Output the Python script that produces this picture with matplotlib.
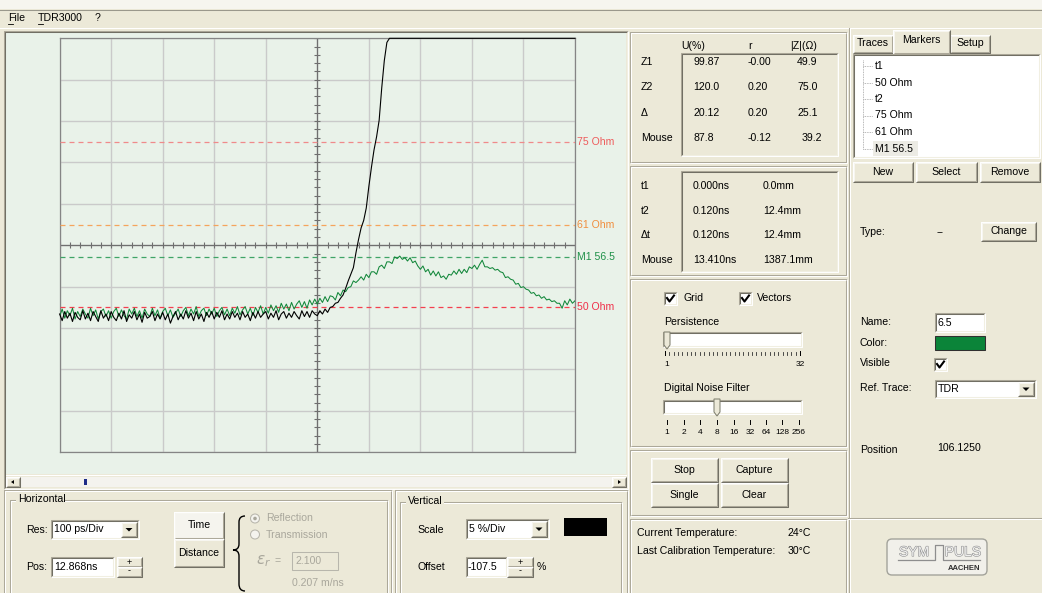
import numpy as np
import matplotlib.pyplot as plt
from matplotlib.patches import Rectangle, Circle, Polygon, FancyBboxPatch, PathPatch
from matplotlib.path import Path
from matplotlib.transforms import blended_transform_factory
import matplotlib.patheffects as pe

plt.rcParams['font.family'] = ['Liberation Sans', 'DejaVu Sans']

# scope settings
res_ps_per_div = 100
scale_pct_per_div = 5
offset_pct = -107.5
n_xdiv, n_ydiv = 10, 10

# sample clock of both traces
sample_start_ps = -500
sample_step_ps = 5

# TDR trace (black), % of step amplitude
tdr_pct = [
    99.2, 98.4, 99.5, 98.7, 99.3, 98.3, 99.4, 98.8, 98.5, 99.6,
    98.6, 99.3, 98.4, 99.5, 98.9, 98.3, 99.6, 98.7, 99.2, 98.4,
    99.5, 98.8, 98.4, 99.3, 98.6, 99.6, 98.3, 99.1, 98.7, 99.5,
    98.5, 99.2, 98.2, 99.4, 98.7, 98.9, 99.5, 98.4, 99.2, 98.6,
    99.4, 98.5, 99.2, 98.1, 98.9, 99.5, 98.5, 99.2, 98.6, 99.6,
    98.7, 99.3, 98.4, 99.5, 98.6, 99.2, 98.3, 99.4, 98.8, 99.5,
    98.6, 99.4, 98.8, 99.6, 98.5, 99.2, 98.6, 99.5, 98.8, 99.3,
    98.5, 99.5, 98.8, 99.2, 98.4, 99.4, 98.7, 99.5, 98.8, 99.2,
    99.5, 98.6, 99.3, 98.8, 99.6, 98.5, 99.2, 99.5, 98.7, 99.3,
    98.8, 99.5, 99.0, 98.6, 99.6, 98.9, 99.5, 98.8, 99.6, 99.2,
    99.0, 99.6, 99.2, 99.8, 99.4, 100.0, 100.1, 100.5, 100.6, 101.1,
    101.5, 102.3, 103.2, 104.0, 104.8, 106.6, 108.2, 109.6, 110.5, 112.0,
    114.6, 116.9, 119.0, 120.6, 122.6, 126.5, 129.8, 132.0, 134.5, 137.0,
    139.2, 141.0, 142.6, 143.8, 144.7, 145.3, 145.9, 146.2, 146.6, 146.8,
    147.0, 147.2, 147.3, 147.5, 147.6, 147.6, 147.8, 147.9, 148.0, 148.0,
    148.1, 148.2, 148.2, 148.3, 148.4, 148.4, 148.5, 148.5, 148.6, 148.6,
    148.7, 148.7, 148.8, 148.8, 148.9, 148.9, 149.0, 149.0, 149.0, 149.1,
    149.1, 149.1, 149.2, 149.2, 149.2, 149.3, 149.3, 149.3, 149.4, 149.4,
    149.4, 149.4, 149.5, 149.5, 149.5, 149.5, 149.6, 149.6, 149.6, 149.6,
    149.7, 149.7, 149.7, 149.7, 149.7, 149.8, 149.8, 149.8, 149.8, 149.8,
    149.8,
]

# stored reference trace (green)
ref_pct = [
    98.9, 99.8, 98.7, 99.6, 99.0, 99.9, 98.6, 99.5, 98.9, 99.8,
    99.2, 98.7, 99.9, 99.0, 99.7, 98.6, 99.5, 99.8, 98.9, 99.6,
    98.7, 99.5, 99.9, 98.9, 99.7, 99.0, 98.6, 99.8, 99.2, 99.9,
    98.9, 99.6, 98.7, 99.8, 99.2, 98.9, 99.9, 99.0, 99.7, 98.7,
    99.5, 99.9, 99.0, 99.7, 98.8, 99.3, 99.8, 98.9, 99.6, 100.0,
    99.0, 99.8, 99.2, 100.1, 98.9, 99.6, 99.9, 99.0, 99.8, 99.2,
    99.9, 98.9, 99.6, 100.0, 99.1, 99.8, 99.0, 99.9, 99.3, 100.1,
    99.1, 99.7, 100.1, 99.2, 99.9, 99.0, 100.0, 99.4, 100.2, 99.2,
    100.0, 99.3, 100.3, 99.6, 100.2, 99.4, 100.5, 99.8, 100.4, 99.6,
    100.6, 99.8, 100.4, 100.8, 100.0, 100.7, 99.9, 100.9, 100.3, 101.0,
    100.4, 101.1, 100.6, 101.3, 100.7, 101.4, 101.3, 100.9, 101.8, 101.4,
    102.1, 101.9, 102.4, 102.5, 103.2, 103.0, 103.3, 103.7, 103.3, 104.0,
    103.6, 104.3, 104.3, 104.0, 104.9, 105.1, 104.7, 105.5, 105.5, 105.3,
    106.1, 105.9, 106.2, 105.8, 106.0, 105.6, 106.0, 105.4, 105.6, 105.0,
    104.6, 105.0, 104.3, 104.6, 103.9, 104.4, 103.8, 104.3, 103.6, 103.8,
    103.4, 104.0, 103.9, 104.4, 104.0, 104.6, 104.1, 104.6, 104.2, 104.9,
    104.7, 105.1, 104.6, 105.2, 105.7, 104.9, 104.9, 104.7, 104.8, 104.5,
    104.6, 104.3, 104.2, 103.6, 103.7, 103.4, 103.3, 102.8, 102.9, 102.4,
    102.5, 102.2, 102.1, 101.7, 101.8, 101.4, 101.5, 101.1, 101.3, 100.9,
    101.0, 100.7, 100.8, 100.5, 100.5, 99.9, 100.8, 100.3, 101.0, 100.5,
    100.8,
]

marker_labels = ['75 Ohm', '61 Ohm', 'M1 56.5', '50 Ohm']
marker_levels = [120.0, 109.91, 106.125, 100.0]
marker_line_colors = ['#F08A8A', '#F5A45C', '#3FA466', '#F4404F']
marker_text_colors = ['#EE5C5C', '#F08E3E', '#1F9149', '#F0304A']

# readout tables
z_head = ['U(%)', 'r', '|Z|(Ω)']
z_rows = ['Z1', 'Z2', 'Δ', 'Mouse']
z_u = ['99.87', '120.0', '20.12', '87.8']
z_r = ['-0.00', '0.20', '0.20', '-0.12']
z_ohm = ['49.9', '75.0', '25.1', '39.2']
t_rows = ['t1', 't2', 'Δt', 'Mouse']
t_ns = ['0.000ns', '0.120ns', '0.120ns', '13.410ns']
t_mm = ['0.0mm', '12.4mm', '12.4mm', '1387.1mm']
tree_items = ['t1', '50 Ohm', 't2', '75 Ohm', '61 Ohm', 'M1 56.5']
filter_ticks = ['1', '2', '4', '8', '16', '32', '64', '128', '256']

W, H = 1042, 593
FACE = '#ECE9D8'
SCOPE = '#E9F2E9'
FS = 7.6
LW = 0.75
GREY_TXT = '#A9A79C'

fig = plt.figure(figsize=(W / 100, H / 100), dpi=100)
fig.patch.set_facecolor(FACE)
ui = fig.add_axes([0, 0, 1, 1])
ui.set_xlim(0, W)
ui.set_ylim(H, 0)
ui.axis('off')


def rect(x0, y0, x1, y1, fc, ec='none', lw=LW, z=1):
    ui.add_patch(Rectangle((x0, y0), x1 - x0, y1 - y0, fc=fc, ec=ec, lw=lw, zorder=z))


def bevel(x0, y0, x1, y1, tl, br, z=2):
    ui.plot([x0, x0, x1], [y1, y0, y0], color=tl, lw=LW, zorder=z, solid_capstyle='butt')
    ui.plot([x0, x1, x1], [y1, y1, y0], color=br, lw=LW, zorder=z, solid_capstyle='butt')


def sunken(x0, y0, x1, y1, fc=None):
    if fc:
        rect(x0, y0, x1, y1, fc)
    bevel(x0, y0, x1, y1, '#ACA899', '#FFFFFF')
    bevel(x0 + 1, y0 + 1, x1 - 1, y1 - 1, '#716F64', '#F1EFE2')


def raised(x0, y0, x1, y1, fc=FACE):
    rect(x0, y0, x1, y1, fc)
    bevel(x0, y0, x1, y1, '#FFFFFF', '#716F64')
    bevel(x0 + 1, y0 + 1, x1 - 1, y1 - 1, '#F7F6F0', '#ACA899')


def etched(x0, y0, x1, y1):
    bevel(x0, y0, x1, y1, '#ACA899', '#FFFFFF')
    bevel(x0 + 1, y0 + 1, x1 - 1, y1 - 1, '#FFFFFF', '#ACA899')


def label(x, y, s, ha='left', color='black', size=FS, **kw):
    ui.text(x, y, s, ha=ha, va='center', color=color, fontsize=size, zorder=5, **kw)


def button(x0, y0, x1, y1, s, fc=FACE):
    raised(x0, y0, x1, y1, fc)
    label((x0 + x1) / 2, (y0 + y1) / 2, s, ha='center')


def down_arrow(cx, cy, color='black'):
    ui.add_patch(Polygon([(cx - 3.5, cy - 1.5), (cx + 3.5, cy - 1.5), (cx, cy + 2)],
                         closed=True, fc=color, ec='none', zorder=4))


def combo(x0, y0, x1, y1, s):
    sunken(x0, y0, x1, y1, '#FFFFFF')
    raised(x1 - 18, y0 + 2, x1 - 2, y1 - 2)
    down_arrow(x1 - 10, (y0 + y1) / 2)
    label(x0 + 3, (y0 + y1) / 2, s)


def spin(x0, y0, x1, y1):
    ym = (y0 + y1) / 2
    raised(x0, y0, x1, ym)
    raised(x0, ym, x1, y1)
    label((x0 + x1) / 2, (y0 + ym) / 2, '+', ha='center', size=6.5)
    label((x0 + x1) / 2, (ym + y1) / 2 - 1, '-', ha='center', size=6.5)


def checkbox(x0, y0):
    sunken(x0, y0, x0 + 13, y0 + 13, '#FFFFFF')
    ui.plot([x0 + 3, x0 + 5.5, x0 + 10], [y0 + 6, y0 + 9.5, y0 + 3.5],
            color='black', lw=1.5, zorder=5)


def group(x0, y0, x1, y1, title, tw):
    etched(x0, y0, x1, y1)
    rect(x0 + 6, y0 - 4, x0 + 10 + tw, y0 + 4, FACE, z=3)
    label(x0 + 8, y0 - 1, title)


# title strip and menu bar
rect(0, 0, W, 9, '#F6F5EF')
ui.plot([0, W], [9.5, 9.5], color='#9A988C', lw=LW)
label(8, 18, 'File')
label(38, 18, 'TDR3000')
label(95, 18, '?')
ui.plot([8, 13], [23.5, 23.5], color='black', lw=0.6)
ui.plot([38, 43], [23.5, 23.5], color='black', lw=0.6)
ui.plot([0, W], [27.5, 27.5], color='#FFFFFF', lw=LW)

# scope panel with scroll bar
sunken(4, 31, 628, 489)
rect(6, 33, 626, 474, SCOPE)
ui.plot([6, 626], [475, 475], color='#FFFFFF', lw=LW)
rect(6, 477, 626, 487, '#F4F3EE')
raised(6, 477, 20, 487)
raised(612, 477, 626, 487)
ui.add_patch(Polygon([(11, 482), (14, 480), (14, 484)], fc='black', ec='none', zorder=4))
ui.add_patch(Polygon([(621, 482), (618, 480), (618, 484)], fc='black', ec='none', zorder=4))
rect(84, 478.5, 87, 485, '#1E2C88', z=4)

# middle column panels
etched(630, 32, 847, 163)
sunken(681, 53, 838, 156)
etched(630, 166, 847, 276)
sunken(681, 171, 838, 272)
etched(630, 279, 847, 447)
etched(630, 450, 847, 516)
etched(630, 519, 847, 600)

for s, x in zip(z_head, [681, 748, 790]):
    label(x, 46, s)
for i, (name, u, r, z) in enumerate(zip(z_rows, z_u, z_r, z_ohm)):
    y = 62 + i * 25.3
    label(641, y, name)
    label(693, y, u)
    label(748, y, r)
    label(802 if name == 'Mouse' else 797, y, z)

for i, (name, ns, mm) in enumerate(zip(t_rows, t_ns, t_mm)):
    y = 186 + i * 24.7
    label(641, y, name)
    label(693, y, ns)
    label(763, y, mm)

# display options
checkbox(664, 292)
label(683, 298, 'Grid')
checkbox(739, 292)
label(757, 298, 'Vectors')
label(664, 322, 'Persistence')
sunken(663, 332, 802, 347, '#FFFFFF')
ui.add_patch(Polygon([(664, 332), (670, 332), (670, 345), (667, 349), (664, 345)],
                     closed=True, fc=FACE, ec='#808070', lw=LW, zorder=4))
for x in np.linspace(665, 800, 32):
    ui.plot([x, x], [352, 354.5], color='#303030', lw=0.6)
ui.plot([665, 665], [351, 355], color='black', lw=0.7)
ui.plot([800, 800], [351, 355], color='black', lw=0.7)
label(667, 364, '1', ha='center', size=6)
label(800, 364, '32', ha='center', size=6)

label(664, 388, 'Digital Noise Filter')
sunken(663, 400, 802, 414, '#FFFFFF')
ui.add_patch(Polygon([(714, 399), (720, 399), (720, 412), (717, 416), (714, 412)],
                     closed=True, fc=FACE, ec='#808070', lw=LW, zorder=4))
filter_x = [667, 683.5, 700, 717, 734, 750, 766, 782, 799]
for x, s in zip(filter_x, filter_ticks):
    ui.plot([x, x], [420, 423.5], color='black', lw=0.7)
    label(x, 433, s, ha='center', size=6)

button(651, 458, 718, 482, 'Stop')
button(721, 458, 788, 482, 'Capture')
button(651, 483, 718, 507, 'Single')
button(721, 483, 788, 507, 'Clear')

label(637, 533, 'Current Temperature:')
label(788, 533, '24°C')
label(637, 551, 'Last Calibration Temperature:')
label(788, 551, '30°C')

# right column: marker page
ui.plot([848.5, 848.5], [28, H], color='#ACA899', lw=LW)
ui.plot([849.5, 849.5], [28, H], color='#FFFFFF', lw=LW)
raised(853, 35, 893, 53)
raised(950, 35, 990, 53)
raised(893, 30, 950, 54)
label(873, 43, 'Traces', ha='center')
label(921.5, 40, 'Markers', ha='center')
label(970, 43, 'Setup', ha='center')
sunken(853, 54, 1040, 158, '#FFFFFF')
tree_y = [66, 82.5, 99, 115.5, 132, 148.5]
rect(873, 141, 918, 156, '#ECEBE4', z=2)
ui.plot([863, 863], [60, tree_y[-1]], color='#A0A0A0', lw=0.6, ls=(0, (1, 1)), zorder=3)
for y, s in zip(tree_y, tree_items):
    ui.plot([863, 873], [y, y], color='#A0A0A0', lw=0.6, ls=(0, (1, 1)), zorder=3)
    label(875, y, s)
button(853, 162, 913, 182, 'New')
button(916, 162, 977, 182, 'Select')
button(980, 162, 1040, 182, 'Remove')

label(860, 232, 'Type:')
label(937, 232, '--')
button(981, 222, 1036, 241, 'Change')
label(860, 322, 'Name:')
sunken(935, 313, 985, 332, '#FFFFFF')
label(937, 322.5, '6.5')
label(860, 343, 'Color:')
rect(935, 336, 985, 350, '#0B8439', ec='#303030', lw=LW)
label(860, 363, 'Visible')
checkbox(934, 358)
label(860, 388, 'Ref. Trace:')
combo(935, 380, 1036, 398, 'TDR')
label(860, 450, 'Position')
label(937, 448, '106.1250')
ui.plot([848, W], [517.5, 517.5], color='#ACA899', lw=LW)
ui.plot([848, W], [518.5, 518.5], color='#FFFFFF', lw=LW)

# company logo
ui.add_patch(FancyBboxPatch((887, 539), 100, 36, boxstyle='round,pad=0,rounding_size=5',
                            fc='#F1F0EA', ec='#A3A39B', lw=1.0, zorder=2))
outline = [pe.withStroke(linewidth=0.8, foreground='#8E8E8E')]
ui.text(914, 552, 'SYM', ha='center', va='center', fontsize=10, color='#EFEFEF',
        path_effects=outline, zorder=5)
ui.text(963, 552, 'PULS', ha='center', va='center', fontsize=10, color='#EFEFEF',
        path_effects=outline, zorder=5)
ui.plot([898, 935, 935, 943, 943, 980], [560, 560, 545, 545, 560, 560],
        color='#8E8E8E', lw=0.9, zorder=5)
ui.text(980, 568.5, 'AACHEN', ha='right', va='center', fontsize=5.5,
        fontweight='bold', color='#303030', zorder=5)

# bottom left: horizontal settings
etched(4, 490, 392, 600)
group(10, 500, 388, 600, 'Horizontal', 44)
label(26, 530, 'Res:')
combo(51, 520, 139, 539, '100 ps/Div')
label(26, 567, 'Pos:')
sunken(51, 557, 114, 577, '#FFFFFF')
label(54, 567, '12.868ns')
spin(117, 557, 142, 577)
button(174, 512, 224, 539, 'Time', fc='#F5F4EE')
button(174, 539, 224, 567, 'Distance')

brace = Path([(245, 516), (239, 516), (239, 522), (239, 544), (239, 550), (233, 550),
              (239, 550), (239, 556), (239, 584), (239, 591), (245, 591)],
             [Path.MOVETO, Path.CURVE3, Path.CURVE3, Path.LINETO, Path.CURVE3, Path.CURVE3,
              Path.CURVE3, Path.CURVE3, Path.LINETO, Path.CURVE3, Path.CURVE3])
ui.add_patch(PathPatch(brace, fc='none', ec='black', lw=1.0, zorder=4))
ui.add_patch(Circle((255, 518.5), 4.5, fc='#F4F3EE', ec='#B8B6AC', lw=LW, zorder=4))
ui.add_patch(Circle((255, 518.5), 1.8, fc='#A9A79C', ec='none', zorder=5))
ui.add_patch(Circle((255, 534.5), 4.5, fc='#F4F3EE', ec='#B8B6AC', lw=LW, zorder=4))
label(266, 518, 'Reflection', color=GREY_TXT)
label(266, 534.5, 'Transmission', color=GREY_TXT)
label(256, 561, r'$\varepsilon_r$', color=GREY_TXT, size=11)
label(274, 561, '=', color=GREY_TXT)
rect(292, 552, 338, 570, FACE, ec='#B8B6AC')
label(295, 561, '2.100', color=GREY_TXT)
label(292, 583, '0.207 m/ns', color=GREY_TXT)

# bottom middle: vertical settings
etched(395, 490, 628, 600)
group(400, 502, 622, 600, 'Vertical', 34)
label(417, 530, 'Scale')
combo(466, 519, 549, 539, '5 %/Div')
rect(564, 518, 607, 536, 'black')
label(417, 567, 'Offset')
sunken(466, 557, 507, 577, '#FFFFFF')
label(468, 567, f'{offset_pct:.1f}')
spin(507, 557, 533, 577)
label(537, 567, '%')

# scope screen
gx0, gx1, gy0, gy1 = 59.6, 575.0, 38.3, 452.3
ax = fig.add_axes([gx0 / W, 1 - gy1 / H, (gx1 - gx0) / W, (gy1 - gy0) / H])
ax.set_facecolor(SCOPE)
y_mid = -offset_pct
half_x = res_ps_per_div * n_xdiv / 2
half_y = scale_pct_per_div * n_ydiv / 2
ax.set_xlim(-half_x, half_x)
ax.set_ylim(y_mid - half_y, y_mid + half_y)
ax.set_xticks(np.arange(-half_x, half_x + 1, res_ps_per_div))
ax.set_yticks(np.arange(y_mid - half_y, y_mid + half_y + 0.1, scale_pct_per_div))
ax.tick_params(length=0, labelbottom=False, labelleft=False)
ax.grid(color='#CACACA', lw=1.0)
ax.set_axisbelow(True)
for sp in ax.spines.values():
    sp.set_color('#858585')
    sp.set_linewidth(0.9)

# centre cross with sub-division ticks
ax.axhline(y_mid, color='#6F6F6F', lw=0.9, zorder=2)
ax.axvline(0, color='#6F6F6F', lw=0.9, zorder=2)
sub_x = np.arange(-half_x, half_x + 1, res_ps_per_div / 5)
sub_y = np.arange(y_mid - half_y, y_mid + half_y + 0.1, scale_pct_per_div / 5)
ax.plot(sub_x, np.full_like(sub_x, y_mid), ls='none', marker='|', ms=5, mew=0.8,
        color='#6F6F6F', zorder=2)
ax.plot(np.zeros_like(sub_y), sub_y, ls='none', marker='_', ms=5, mew=0.8,
        color='#6F6F6F', zorder=2)

# horizontal markers
tr = blended_transform_factory(ax.transAxes, ax.transData)
for name, lev, lc, tc in zip(marker_labels, marker_levels, marker_line_colors, marker_text_colors):
    ax.axhline(lev, color=lc, lw=0.9, dashes=(4.0, 3.2), zorder=3)
    ax.text(1.004, lev, name, transform=tr, ha='left', va='center', color=tc,
            fontsize=FS, clip_on=False)

t_ps = sample_start_ps + sample_step_ps * np.arange(len(tdr_pct))
lo, hi = ax.get_ylim()
ax.plot(t_ps, np.clip(ref_pct, lo, hi), color='#12873A', lw=0.75, zorder=4)
ax.plot(t_ps, np.clip(tdr_pct, lo, hi), color='black', lw=0.8, zorder=5, clip_on=False)

fig.savefig('out.png', dpi=100, facecolor=FACE)
